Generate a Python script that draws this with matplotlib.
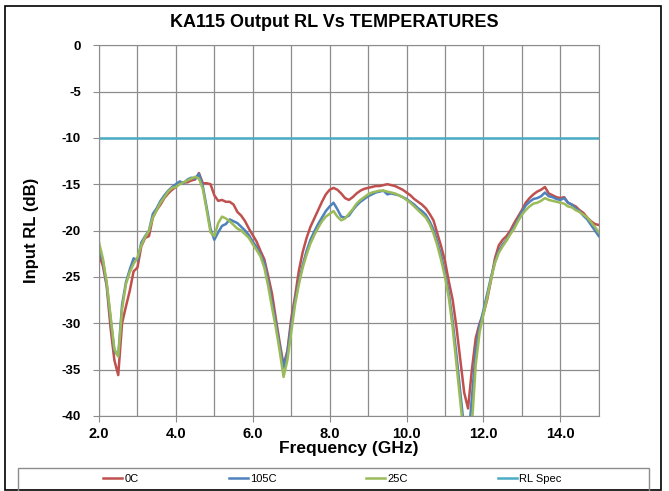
import numpy as np
import matplotlib.pyplot as plt
from matplotlib.patches import Rectangle

plt.rcParams['font.family'] = ['Liberation Sans', 'DejaVu Sans']
plt.rcParams['axes.unicode_minus'] = False

freq = np.round(np.arange(2.0, 15.01, 0.1), 1)

rl_0c = [
    -22.6, -23.8, -26.0, -30.5, -34.0, -35.6, -30.0, -28.2, -26.5, -24.4,
    -24.0, -21.7, -20.8, -20.6, -18.6, -17.8, -17.2, -16.5, -16.0, -15.6,
    -15.3, -14.9, -14.8, -14.8, -14.6, -14.5, -13.8, -14.9, -14.9, -15.0,
    -16.2, -16.8, -16.7, -16.9, -16.9, -17.2, -18.0, -18.4, -19.0, -19.8,
    -20.5, -21.2, -22.2, -23.1, -24.9, -26.8, -29.5, -32.1, -34.5, -33.0,
    -29.5, -27.1, -24.3, -22.3, -20.8, -19.6, -18.7, -17.8, -16.9, -16.1,
    -15.6, -15.4, -15.6, -16.0, -16.5, -16.7, -16.4, -16.0, -15.7, -15.5,
    -15.4, -15.3, -15.2, -15.2, -15.1, -15.0, -15.1, -15.2, -15.4, -15.6,
    -15.9, -16.2, -16.6, -16.9, -17.2, -17.6, -18.2, -18.9, -20.3, -21.7,
    -23.3, -25.5, -27.5, -30.5, -34.0, -37.5, -39.2, -35.0, -31.6, -30.0,
    -29.0, -27.4, -25.3, -23.0, -21.6, -21.0, -20.6, -20.0, -19.2, -18.5,
    -17.8, -17.0, -16.5, -16.1, -15.8, -15.6, -15.3, -16.0, -16.2, -16.4,
    -16.5, -16.4, -17.0, -17.2, -17.4, -17.8, -18.1, -18.6, -19.0, -19.3,
    -19.4,
]

rl_105c = [
    -21.8, -23.3, -25.8, -29.5, -33.0, -33.5, -28.0, -25.6, -24.2, -23.0,
    -23.2, -21.3, -20.6, -20.0, -18.2, -17.6, -16.8, -16.2, -15.7, -15.3,
    -15.0, -14.7, -14.9, -14.5, -14.3, -14.4, -13.9, -15.2, -17.5, -19.8,
    -21.0, -20.2, -19.5, -19.3, -18.8, -19.0, -19.2, -19.6, -20.0, -20.5,
    -21.2, -21.8, -22.6, -23.5, -25.5, -27.8, -30.0, -32.5, -34.8, -33.2,
    -30.2, -27.6, -25.5, -23.7, -22.2, -21.0, -20.1, -19.3, -18.6, -17.9,
    -17.4, -17.0, -17.7, -18.5, -18.6, -18.4, -17.8, -17.3, -16.9, -16.6,
    -16.3, -16.1, -15.9, -15.8, -15.7, -16.1, -16.0, -16.1, -16.2, -16.4,
    -16.6, -16.9, -17.2, -17.6, -17.9, -18.3, -19.0, -19.9, -21.2, -22.7,
    -24.6, -26.8, -29.8, -33.5, -37.5, -41.5, -43.0, -38.0, -33.0, -30.3,
    -28.6, -26.8, -25.0, -23.4, -22.2, -21.5, -21.0, -20.3, -19.6, -18.8,
    -18.0, -17.3, -16.9, -16.6, -16.5, -16.3, -15.9, -16.3, -16.4, -16.6,
    -16.7, -16.5, -17.0, -17.2, -17.6, -17.9, -18.4, -18.8, -19.4, -20.0,
    -20.6,
]

rl_25c = [
    -21.3, -23.0, -25.6, -29.2, -32.8, -33.6, -28.5, -25.8, -24.5, -23.6,
    -22.9, -21.6, -20.7, -20.0, -18.6, -17.8, -17.0, -16.4, -15.8, -15.4,
    -15.3, -15.0, -14.8, -14.6, -14.4, -14.2, -14.4, -15.5, -17.8, -20.2,
    -20.6, -19.2, -18.5, -18.7, -19.0, -19.4, -19.8, -20.0, -20.4, -20.8,
    -21.5, -22.1, -22.8, -24.0, -26.0, -28.3, -30.5, -33.0, -35.8, -34.0,
    -31.0, -28.0, -25.8, -24.0, -22.6, -21.4, -20.5, -19.7, -19.0, -18.5,
    -18.2, -17.9, -18.5, -18.9, -18.7, -18.2, -17.7, -17.1, -16.7, -16.4,
    -16.1, -15.9, -15.8, -15.7, -15.7, -15.8, -15.9, -16.0, -16.2, -16.4,
    -16.7, -17.0, -17.4, -17.8, -18.2, -18.6, -19.3, -20.3, -21.6, -23.2,
    -25.0, -27.3, -30.5, -34.5, -38.5, -42.5, -44.0, -41.0, -34.5, -31.0,
    -29.0, -27.2, -25.2, -23.5, -22.4, -21.7, -21.1, -20.4, -19.8, -19.0,
    -18.3, -17.8, -17.4, -17.1, -17.0, -16.8, -16.5, -16.7, -16.8, -16.9,
    -17.0, -17.1, -17.4, -17.5, -17.8, -18.0, -18.3, -18.6, -19.1, -19.6,
    -20.2,
]

spec_freq = [2.0, 15.0]
spec_rl = [-10, -10]

fig = plt.figure(figsize=(6.69, 4.91), dpi=100)
ax = fig.add_axes([0.148, 0.153, 0.747, 0.755])

ax.plot(freq, rl_0c, color='#C0504D', lw=1.8, label='0C')
ax.plot(freq, rl_105c, color='#4F81BD', lw=1.8, label='105C')
ax.plot(freq, rl_25c, color='#9BBB59', lw=1.8, label='25C')
ax.plot(spec_freq, spec_rl, color='#4BACC6', lw=1.8, label='RL Spec')

ax.set_xlim(2, 15)
ax.set_ylim(-40, 0)
ax.set_xticks(np.arange(2, 15, 2))
ax.set_xticks(np.arange(2, 16, 1), minor=True)
ax.set_xticklabels(['%.1f' % v for v in np.arange(2, 15, 2)])
ax.set_yticks(np.arange(-40, 1, 5))
ax.grid(True, which='both', color='#8c8c8c', lw=0.9)
ax.set_axisbelow(True)
for s in ax.spines.values():
    s.set_color('#8c8c8c')
ax.tick_params(axis='x', which='major', length=4, color='#8c8c8c', pad=4)
ax.tick_params(axis='x', which='minor', length=0)
ax.tick_params(axis='y', length=4, color='#8c8c8c', pad=9)
for lab in ax.get_xticklabels():
    lab.set_fontweight('bold')
    lab.set_fontsize(10.5)
for lab in ax.get_yticklabels():
    lab.set_fontweight('bold')
    lab.set_fontsize(9.5)

ax.set_xlabel('Frequency (GHz)', fontsize=12.5, fontweight='bold', labelpad=0)
ax.set_ylabel('Input RL (dB)', fontsize=12, fontweight='bold', labelpad=16)
fig.text(0.5, 0.955, 'KA115 Output RL Vs TEMPERATURES', ha='center', va='center',
         fontsize=13, fontweight='bold')

# outer frame and legend box
fig.patches.append(Rectangle((5 / 669, 1 / 491), 656 / 669, 484 / 491,
                             transform=fig.transFigure, fill=False,
                             edgecolor='black', lw=1.2))
fig.patches.append(Rectangle((18 / 669, -0.05), 631 / 669, 0.05 + 23 / 491,
                             transform=fig.transFigure, fill=False,
                             edgecolor='#8c8c8c', lw=1.0))
fig.legend(loc='center', bbox_to_anchor=(0.497, 1 - 479 / 491), ncol=4,
           frameon=False, fontsize=8, handlelength=1.7, handletextpad=0.2,
           columnspacing=8.1)

fig.savefig('out.png', dpi=100)
